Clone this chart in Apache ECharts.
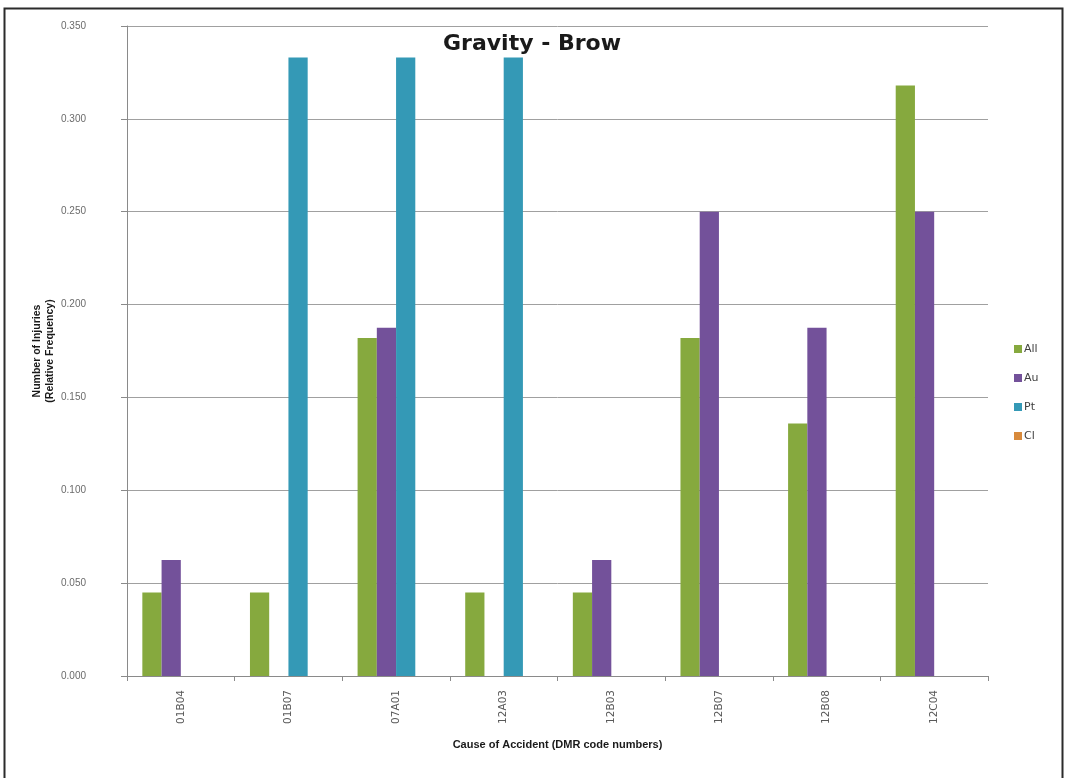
<!DOCTYPE html>
<html>
<head>
<meta charset="utf-8">
<script src="https://cdn.jsdelivr.net/npm/echarts@6/dist/echarts.min.js"></script>
<style>
html,body{margin:0;padding:0;background:#fff;}
#c{width:1065px;height:778px;}
</style>
</head>
<body>
<div id="c"></div>
<script>
const categories = ['01B04','01B07','07A01','12A03','12B03','12B07','12B08','12C04'];
const seriesNames = ['All','Au','Pt','Cl'];
const allValues = [0.045, 0.045, 0.182, 0.045, 0.045, 0.182, 0.136, 0.318];
const auValues  = [0.0625, 0, 0.1875, 0, 0.0625, 0.25, 0.1875, 0.25];
const ptValues  = [0, 0.333, 0.333, 0.333, 0, 0, 0, 0];
const clValues  = [0, 0, 0, 0, 0, 0, 0, 0];
const yTicks = [0, 0.05, 0.1, 0.15, 0.2, 0.25, 0.3, 0.35];

const colors = ['#86a93e', '#73519a', '#3499b6', '#d88a3c'];
const values = [allValues, auValues, ptValues, clValues];

const chart = echarts.init(document.getElementById('c'), null, {renderer:'canvas'});
chart.setOption({
  backgroundColor: '#ffffff',
  animation: false,
  title: {
    text: 'Gravity - Brow',
    left: 527, top: 28, textAlign: 'center',
    textStyle: {fontFamily: 'DejaVu Sans', fontWeight: 'bold', fontSize: 22, color: '#1a1a1a'}
  },
  graphic: [{
    type: 'rect', silent: true,
    shape: {x: 4.5, y: 8.5, width: 1058, height: 790},
    style: {fill: 'none', stroke: '#2b2b2b', lineWidth: 2}
  }],
  legend: {
    orient: 'vertical',
    left: 1014, top: 342, padding: 0,
    itemWidth: 8, itemHeight: 8, itemGap: 15,
    icon: 'rect',
    data: seriesNames,
    textStyle: {fontFamily: 'DejaVu Sans', fontSize: 11, color: '#404040', padding: [0,0,0,-3], lineHeight: 14}
  },
  grid: {left: 127, right: 77, top: 26, bottom: 102},
  xAxis: {
    type: 'category',
    data: categories,
    name: 'Cause of Accident (DMR code numbers)',
    nameLocation: 'middle',
    nameGap: 63,
    nameMoveOverlap: false,
    nameTextStyle: {fontFamily: 'Liberation Sans', fontWeight: 'bold', fontSize: 11, color: '#1a1a1a'},
    axisLine: {lineStyle: {color: '#8a8a8a', width: 1}},
    axisTick: {show: true, inside: false, length: 5, alignWithLabel: false, lineStyle: {color: '#8a8a8a'}},
    axisLabel: {rotate: 90, margin: 14, fontFamily: 'DejaVu Sans', fontSize: 10.5, color: '#595959'}
  },
  yAxis: {
    type: 'value',
    min: 0, max: 0.35, interval: 0.05,
    name: 'Number of Injuries\n(Relative Frequency)',
    nameLocation: 'middle',
    nameGap: 70,
    nameMoveOverlap: false,
    nameRotate: 90,
    nameTextStyle: {fontFamily: 'Liberation Sans', fontWeight: 'bold', fontSize: 10.5, color: '#1a1a1a', lineHeight: 13},
    axisLine: {show: true, lineStyle: {color: '#8a8a8a', width: 1}},
    axisTick: {show: true, length: 6, lineStyle: {color: '#8a8a8a'}},
    splitLine: {show: true, lineStyle: {color: '#a0a0a0', width: 1}},
    axisLabel: {
      margin: 41, fontFamily: 'Liberation Sans', fontSize: 10, color: '#6b6b6b',
      formatter: v => yTicks.includes(Math.round(v*100)/100) ? v.toFixed(3) : ''
    }
  },
  series: seriesNames.map((n, i) => ({
    name: n,
    type: 'bar',
    data: values[i],
    barGap: '0%',
    barCategoryGap: '28.5%',
    itemStyle: {color: colors[i]}
  }))
});
</script>
</body>
</html>
